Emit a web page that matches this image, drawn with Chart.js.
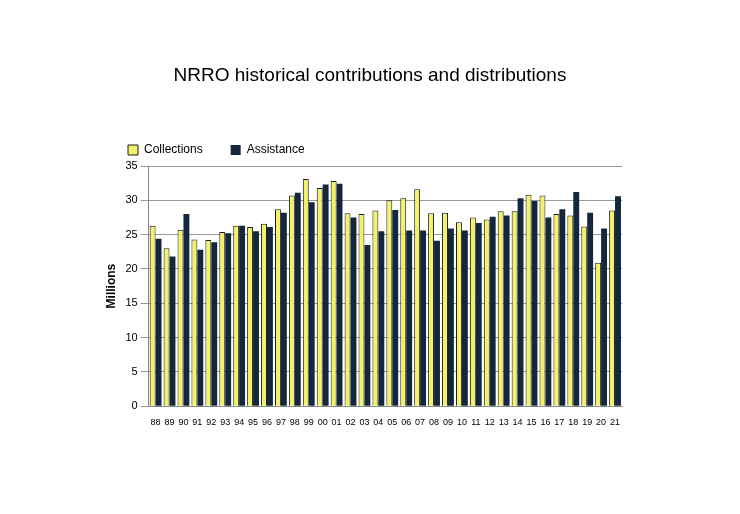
<!DOCTYPE html>
<html>
<head>
<meta charset="utf-8">
<script src="https://cdn.jsdelivr.net/npm/chart.js@4/dist/chart.umd.min.js"></script>
<style>
  html, body { margin: 0; padding: 0; background: #fff; }
  #wrap { width: 740px; height: 514px; position: relative; }
  #title { position: absolute; top: 64px; left: 0; width: 740px; text-align: center;
    font: 19px "Liberation Sans", Arial, sans-serif; color: #000; }
</style>
</head>
<body>
<div id="wrap">
  <div id="title">NRRO historical contributions and distributions</div>
  <canvas id="chart" width="740" height="514"></canvas>
</div>
<script>
const years = ["88","89","90","91","92","93","94","95","96","97","98","99","00","01","02","03","04",
  "05","06","07","08","09","10","11","12","13","14","15","16","17","18","19","20","21"]
const collections = [26.3, 23, 25.7, 24.3, 24.2, 25.4, 26.3, 26.1, 26.6, 28.7, 30.7, 33.1, 31.8, 32.8,
  28.1, 28, 28.5, 30, 30.3, 31.6, 28.1, 28.2, 26.8, 27.5, 27.2, 28.4, 28.4, 30.8, 30.7, 28, 27.8, 26.2, 20.9, 28.5]
const assistance = [24.4, 21.8, 28, 22.8, 23.9, 25.2, 26.3, 25.5, 26.1, 28.2, 31.1, 29.7, 32.3, 32.4,
  27.5, 23.5, 25.5, 28.6, 25.6, 25.6, 24.1, 25.9, 25.6, 26.7, 27.6, 27.8, 30.3, 29.9, 27.5, 28.7, 31.2, 28.2, 25.9, 30.6]

const font = { family: "Liberation Sans, Arial, sans-serif", size: 11 }

new Chart(document.getElementById("chart"), {
  type: "bar",
  data: {
    labels: years,
    datasets: [
      {
        label: "Collections",
        data: collections,
        backgroundColor: "#f2f26a",
        borderColor: "#1a1a1a",
        borderWidth: 1,
        categoryPercentage: 0.85,
        barPercentage: 1,
      },
      {
        label: "Assistance",
        data: assistance,
        backgroundColor: "#14273d",
        borderColor: "#14273d",
        borderWidth: 0,
        categoryPercentage: 0.85,
        barPercentage: 1,
      },
    ],
  },
  options: {
    responsive: false,
    animation: false,
    layout: { padding: { top: 116, left: 100, right: 118, bottom: 83 } },
    plugins: {
      legend: {
        position: "top",
        align: "start",
        labels: {
          font: { family: font.family, size: 12 },
          color: "#000",
          boxWidth: 10,
          boxHeight: 10,
          padding: 28,
        },
      },
      tooltip: { enabled: false },
    },
    scales: {
      x: {
        grid: { display: false },
        border: { color: "#888" },
        ticks: { font: { family: font.family, size: 9 }, color: "#000", maxRotation: 0, autoSkip: false },
      },
      y: {
        min: 0,
        max: 35,
        ticks: { stepSize: 5, font: font, color: "#000" },
        grid: { color: "#999", drawTicks: true },
        border: { color: "#888" },
        title: { display: true, text: "Millions", font: { family: font.family, size: 12, weight: "bold" }, color: "#000" },
      },
    },
  },
})
</script>
</body>
</html>
